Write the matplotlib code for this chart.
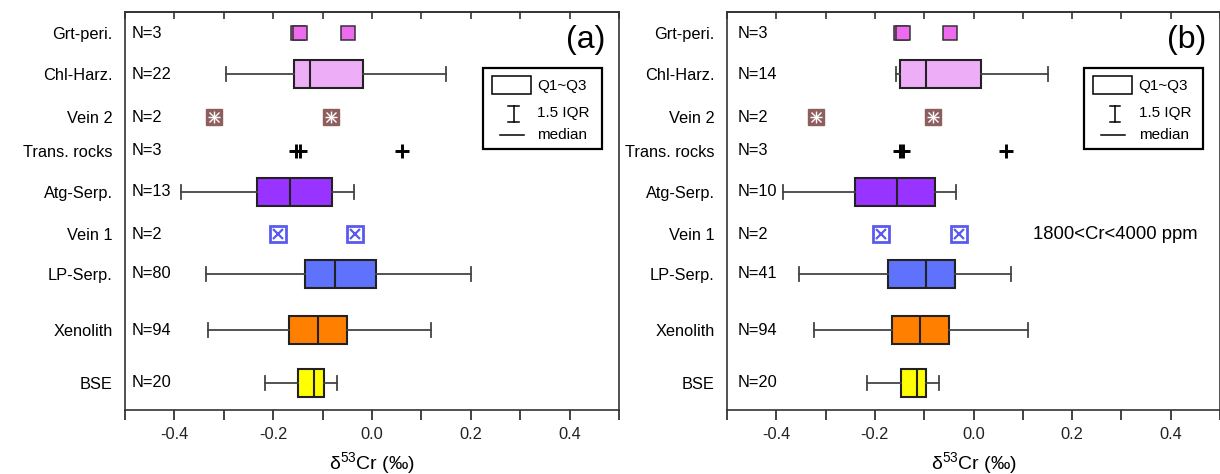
import matplotlib
matplotlib.use('Agg')
import matplotlib.pyplot as plt
from matplotlib.patches import Rectangle
from matplotlib.lines import Line2D
from matplotlib.ticker import MultipleLocator, FuncFormatter

plt.rcParams['font.family'] = ['Liberation Sans', 'DejaVu Sans']
plt.rcParams['mathtext.fontset'] = 'custom'
plt.rcParams['mathtext.rm'] = 'Liberation Sans'
plt.rcParams['mathtext.it'] = 'Liberation Sans'
plt.rcParams['mathtext.default'] = 'regular'

# ---------------- data ----------------
categories = ["Grt-peri.", "Chl-Harz.", "Vein 2", "Trans. rocks", "Atg-Serp.",
              "Vein 1", "LP-Serp.", "Xenolith", "BSE"]
row_pos = [9.47, 8.44, 7.36, 6.51, 5.48, 4.42, 3.42, 2.01, 0.68]

n_a = [3, 22, 2, 3, 13, 2, 80, 94, 20]
n_b = [3, 14, 2, 3, 10, 2, 41, 94, 20]

box_cats = ["Chl-Harz.", "Atg-Serp.", "LP-Serp.", "Xenolith", "BSE"]
box_colors = ["#EEAEF7", "#9933FF", "#5E72FC", "#FF8000", "#FFFF00"]

# panel (a) box statistics
a_whislo = [-0.295, -0.387, -0.336, -0.332, -0.217]
a_q1 = [-0.158, -0.233, -0.136, -0.168, -0.150]
a_med = [-0.126, -0.165, -0.075, -0.110, -0.118]
a_q3 = [-0.019, -0.080, 0.009, -0.051, -0.098]
a_whishi = [0.149, -0.036, 0.200, 0.119, -0.071]

# panel (b) box statistics
b_whislo = [-0.157, -0.386, -0.353, -0.324, -0.216]
b_q1 = [-0.150, -0.241, -0.174, -0.165, -0.148]
b_med = [-0.096, -0.156, -0.096, -0.109, -0.115]
b_q3 = [0.015, -0.078, -0.038, -0.049, -0.096]
b_whishi = [0.152, -0.035, 0.077, 0.111, -0.069]

# individual points
grt_a = [-0.150, -0.146, -0.049]
grt_b = [-0.147, -0.143, -0.047]
vein2_a = [-0.320, -0.084]
vein2_b = [-0.319, -0.082]
trans_a = [-0.153, -0.146, 0.061]
trans_b = [-0.150, -0.143, 0.065]
vein1_a = [-0.191, -0.034]
vein1_b = [-0.188, -0.030]

grt_color = "#EE6AEE"
vein2_color = "#8E5E5E"
vein1_color = "#5A5AEE"

FS = 11.8


def fmt(v, p):
    v = round(v, 2) + 0.0
    k = int(round(v * 10))
    if k % 2 == 0 and abs(k) <= 4:
        return f"{v:.1f}"
    return ""


def draw(ax, n, whislo, q1, med, q3, whishi, grt, vein2, trans, vein1, tag, n_off, note=None):
    ypos = dict(zip(categories, row_pos))
    stats = [dict(whislo=w0, q1=a, med=m, q3=b, whishi=w1, fliers=[])
             for w0, a, m, b, w1 in zip(whislo, q1, med, q3, whishi)]
    pos = [ypos[c] for c in box_cats]
    bp = ax.bxp(stats, positions=pos, orientation='horizontal', widths=0.71,
                capwidths=0.36, patch_artist=True, showfliers=False,
                boxprops=dict(edgecolor='#222222', linewidth=1.5),
                whiskerprops=dict(color='#444444', linewidth=1.3),
                capprops=dict(color='#444444', linewidth=1.3),
                medianprops=dict(color='#222222', linewidth=1.5),
                manage_ticks=False)
    for patch, col in zip(bp['boxes'], box_colors):
        patch.set_facecolor(col)

    yg = ypos["Grt-peri."]
    for x in grt:
        ax.plot([x], [yg], ls='none', marker='s', ms=10, mfc=grt_color,
                mec='#333333', mew=1.1)
    yv2 = ypos["Vein 2"]
    ax.plot(vein2, [yv2] * len(vein2), ls='none', marker='s', ms=11,
            mfc=vein2_color, mec=vein2_color)
    ax.plot(vein2, [yv2] * len(vein2), ls='none', marker='+', ms=8,
            mec='white', mew=1.0)
    ax.plot(vein2, [yv2] * len(vein2), ls='none', marker='x', ms=6.5,
            mec='white', mew=1.0)
    yt = ypos["Trans. rocks"]
    ax.plot(trans, [yt] * len(trans), ls='none', marker='+', ms=10.5,
            mec='black', mew=2.1)
    yv1 = ypos["Vein 1"]
    ax.plot(vein1, [yv1] * len(vein1), ls='none', marker='s', ms=11,
            mfc='white', mec=vein1_color, mew=2.0)
    ax.plot(vein1, [yv1] * len(vein1), ls='none', marker='x', ms=7,
            mec=vein1_color, mew=1.6)

    tr = ax.get_yaxis_transform()
    for c, k in zip(categories, n):
        ax.text(n_off, ypos[c], f"N={k}", transform=tr, ha='left', va='center',
                fontsize=FS)

    ax.set_ylim(0, 10)
    ax.set_yticks(row_pos)
    ax.set_yticklabels(categories)
    ax.tick_params(axis='y', length=0, pad=9, labelsize=FS)

    ax.set_xlim(-0.5, 0.5)
    ax.xaxis.set_major_locator(MultipleLocator(0.1))
    ax.xaxis.set_major_formatter(FuncFormatter(fmt))
    ax.tick_params(axis='x', direction='out', length=7, width=1.2, pad=5,
                   labelsize=FS, colors='#222222')
    sec = ax.secondary_xaxis('top')
    sec.xaxis.set_major_locator(MultipleLocator(0.1))
    sec.tick_params(direction='in', length=5, width=1.2, labeltop=False,
                    colors='#333333')
    sec.spines['top'].set_linewidth(1.2)
    sec.spines['top'].set_color('#333333')
    for s in ax.spines.values():
        s.set_linewidth(1.2)
        s.set_color('#333333')
    ax.set_xlabel(r'δ$^{53}$Cr (‰)', fontsize=14, labelpad=6)

    # panel tag
    ax.text(0.972, 0.93, tag, transform=ax.transAxes, ha='right', va='center',
            fontsize=23)

    # legend (drawn in axes coordinates)
    T = ax.transAxes
    ax.add_patch(Rectangle((0.724, 0.656), 0.241, 0.203, transform=T,
                           fill=False, lw=1.6, ec='black'))
    ax.add_patch(Rectangle((0.743, 0.794), 0.078, 0.045, transform=T,
                           fill=False, lw=1.1, ec='black'))
    ax.text(0.835, 0.815, "Q1~Q3", transform=T, ha='left', va='center', fontsize=11)
    ax.add_line(Line2D([0.787, 0.787], [0.724, 0.764], transform=T, color='black', lw=1.1))
    ax.add_line(Line2D([0.776, 0.798], [0.764, 0.764], transform=T, color='black', lw=1.1))
    ax.add_line(Line2D([0.776, 0.798], [0.724, 0.724], transform=T, color='black', lw=1.1))
    ax.text(0.835, 0.746, "1.5 IQR", transform=T, ha='left', va='center', fontsize=11)
    ax.add_line(Line2D([0.759, 0.808], [0.691, 0.691], transform=T, color='black', lw=1.1))
    ax.text(0.835, 0.691, "median", transform=T, ha='left', va='center', fontsize=11)

    if note:
        ax.text(0.621, ypos["Vein 1"], note, transform=tr, ha='left',
                va='center', fontsize=13.3)


fig = plt.figure(figsize=(12.2, 4.74), dpi=100)
ax_a = fig.add_axes([125 / 1220, 1 - 410 / 474, 494 / 1220, 398 / 474])
ax_b = fig.add_axes([727 / 1220, 1 - 410 / 474, 493 / 1220, 398 / 474])

draw(ax_a, n_a, a_whislo, a_q1, a_med, a_q3, a_whishi,
     grt_a, vein2_a, trans_a, vein1_a, "(a)", 0.0136)
draw(ax_b, n_b, b_whislo, b_q1, b_med, b_q3, b_whishi,
     grt_b, vein2_b, trans_b, vein1_b, "(b)", 0.022, note="1800<Cr<4000 ppm")

fig.savefig("out.png", dpi=100)
